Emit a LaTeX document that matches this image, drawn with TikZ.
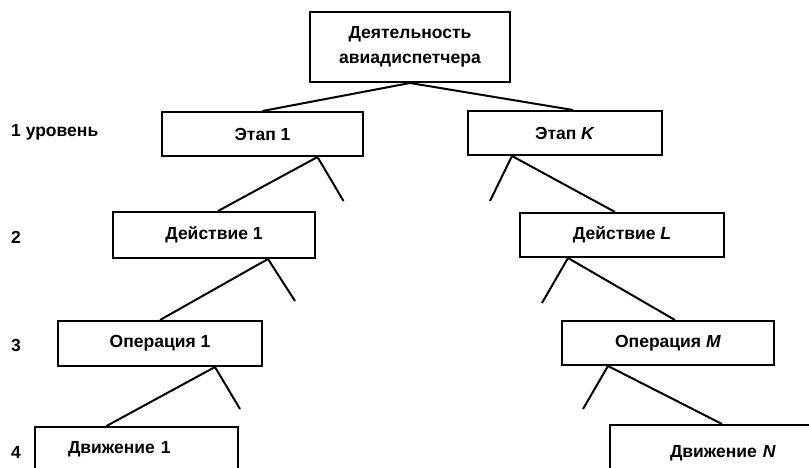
\documentclass[tikz,border=0pt]{standalone}
\usepackage{fontspec}
\setmainfont{Liberation Sans}
\usetikzlibrary{calc}
\tikzset{
	box/.style={draw, line width=2pt, rectangle, inner sep=0pt, align=center,
		font=\fontsize{17.5}{25}\selectfont\bfseries},
	lvl/.style={anchor=west, inner sep=0pt, font=\fontsize{17.5}{21}\selectfont\bfseries},
	edge/.style={line width=2pt}
}
\begin{document}
\begin{tikzpicture}[x=1pt,y=-1pt]
			\useasboundingbox (0,0) rectangle (809,468);
			\node[box, minimum width=200, minimum height=70] (top) at (410,47) {Деятельность\\авиадиспетчера};
			\node[box, minimum width=201, minimum height=44] (et1) at (262.5,134) {Этап 1};
			\node[box, minimum width=194, minimum height=44] (etK) at (565,133) {Этап \textit{K}};
			\node[box, minimum width=202, minimum height=46] (dA1) at (214,235) {Действие 1};
			\node[box, minimum width=204, minimum height=44] (dAL) at (622,235) {Действие \textit{L}};
			\node[box, minimum width=204, minimum height=45] (op1) at (160,343.5) {Операция 1};
			\node[box, minimum width=212, minimum height=44] (opM) at (668,343) {Операция \textit{M}};
			\node[box, minimum height=45, text width=137, inner xsep=33, align=left] (dv1) at (136.5,449.5) {Движение 1};
			\node[box, minimum height=56, text width=130, inner xsep=60, align=left] (dvN) at (735,453) {Движение \textit{N}};
			\foreach \n/\y/\t in {l1/132/1 уровень,l2/237/2,l3/345/3,l4/452/4}{
				\node[lvl] (\n) at (11,\y) {\t};
			}
			% branch points
			\coordinate (b1) at ($(et1.south)+(55,0)$);
			\coordinate (bK) at ($(etK.south)+(-53,0)$);
			\coordinate (c1) at ($(dA1.south)+(54,0)$);
			\coordinate (cL) at ($(dAL.south)+(-54,0)$);
			\coordinate (d1) at ($(op1.south)+(55,0)$);
			\coordinate (dM) at ($(opM.south)+(-60,0)$);
			\draw[edge] (et1.north) -- (top.south) -- ($(etK.north)+(8,0)$);
			\draw[edge] (b1) -- ($(dA1.north)+(4,0)$);
			\draw[edge] (bK) -- ($(dAL.north)+(-7,0)$);
			\draw[edge] (c1) -- (op1.north);
			\draw[edge] (cL) -- ($(opM.north)+(7,0)$);
			\draw[edge] (d1) -- ($(dv1.north)+(-30,0)$);
			\draw[edge] (dM) -- ($(dvN.north west)+(113,0)$);
			% short stubs
			\foreach \p\dx\dy in {b1/26/44,bK/-22/45,c1/27/42,cL/-26/45,d1/25/42,dM/-25/43}{
				\draw[edge] (\p) -- ++(\dx,\dy) coordinate (\p s);
			}
\end{tikzpicture}
\end{document}
